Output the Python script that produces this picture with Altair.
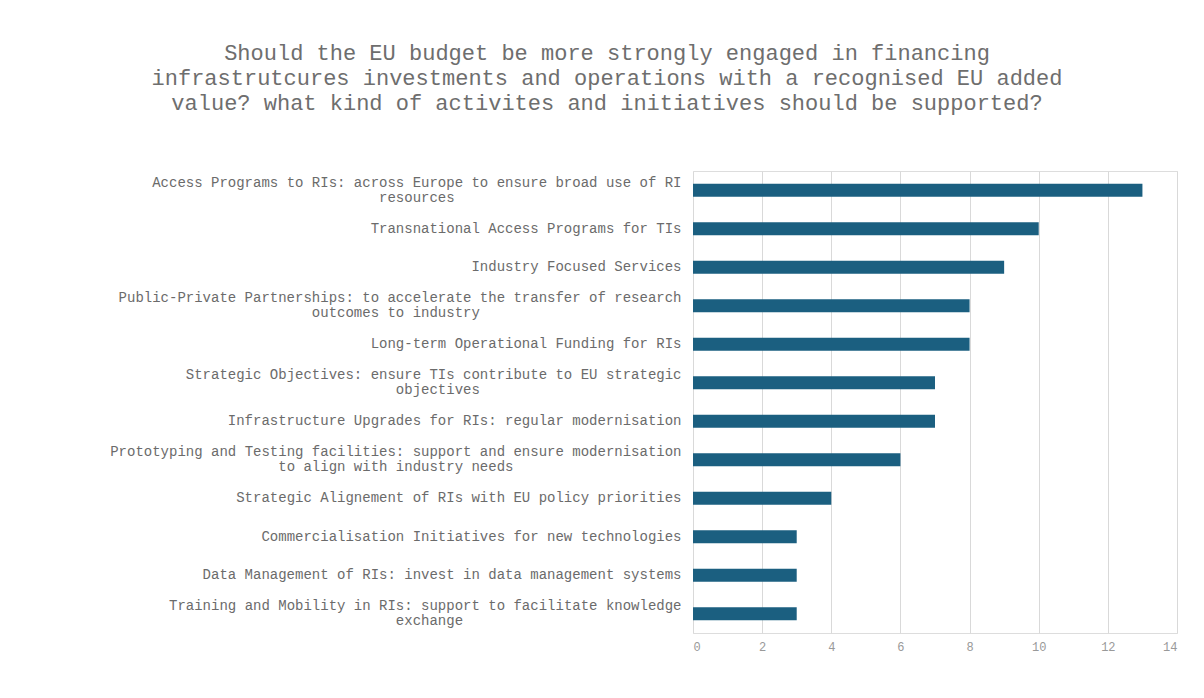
import altair as alt
import pandas as pd

categories = [
    "Access Programs to RIs: across Europe to ensure broad use of RI|resources",
    "Transnational Access Programs for TIs",
    "Industry Focused Services",
    "Public-Private Partnerships: to accelerate the transfer of research|outcomes to industry",
    "Long-term Operational Funding for RIs",
    "Strategic Objectives: ensure TIs contribute to EU strategic|objectives",
    "Infrastructure Upgrades for RIs: regular modernisation",
    "Prototyping and Testing facilities: support and ensure modernisation|to align with industry needs",
    "Strategic Alignement of RIs with EU policy priorities",
    "Commercialisation Initiatives for new technologies",
    "Data Management of RIs: invest in data management systems",
    "Training and Mobility in RIs: support to facilitate knowledge|exchange",
]
values = [13, 10, 9, 8, 8, 7, 7, 6, 4, 3, 3, 3]

title_lines = [
    "Should the EU budget be more strongly engaged in financing",
    "infrastrutcures investments and operations with a recognised EU added",
    "value? what kind of activites and initiatives should be supported?",
]


def center_pad(label):
    # monospace font: pad wrapped lines with non-breaking spaces (closed by a
    # word joiner so they are not trimmed) so right-aligned lines look centred
    parts = label.split("|")
    if len(parts) == 1:
        return label
    first = parts[0]
    out = [first]
    for p in parts[1:]:
        pad = round((len(first) - len(p)) / 2)
        out.append(p + "\u00a0" * pad + "\u2060")
    return "|".join(out)


labels = [center_pad(c) for c in categories]
df = pd.DataFrame({"category": labels, "value": values})

font = "Liberation Mono"

chart = alt.Chart(df).mark_bar(color="#1b5f80").encode(
    y=alt.Y(
        "category:N",
        sort=labels,
        title=None,
        scale=alt.Scale(paddingInner=0.66, paddingOuter=0.33),
        axis=alt.Axis(
            ticks=False,
            domain=False,
            labelFont=font,
            labelFontSize=14,
            labelColor="#6b6b6b",
            labelPadding=12,
            labelLimit=1000,
            labelLineHeight=15,
            labelOffset=alt.condition("indexof(datum.value, '|') >= 0", alt.value(-7.5), alt.value(0)),
            labelExpr="split(datum.label, '|')",
        ),
    ),
    x=alt.X(
        "value:Q",
        title=None,
        scale=alt.Scale(domain=[0, 14]),
        axis=alt.Axis(
            values=[0, 2, 4, 6, 8, 10, 12, 14],
            ticks=False,
            domain=False,
            grid=True,
            gridColor="#d9d9d9",
            labelFont=font,
            labelFontSize=12,
            labelColor="#999999",
            labelPadding=8,
        ),
    ),
).properties(
    width=484,
    height=462,
    autosize=alt.AutoSizeParams(type="none"),
    padding={"left": 685, "top": 163, "right": 10, "bottom": 20},
    title=alt.TitleParams(
        text=title_lines,
        font=font,
        fontSize=22,
        fontWeight="normal",
        color="#6e6e6e",
        lineHeight=25,
        anchor="middle",
        dx=-328,
        offset=56,
    ),
).configure_view(stroke=None).configure(background="white")

chart.save("out.html", embed_options={"renderer": "svg", "actions": False})
